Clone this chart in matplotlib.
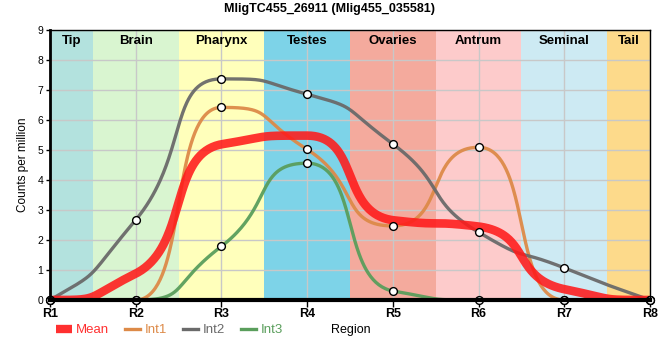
import numpy as np
import matplotlib.pyplot as plt
from matplotlib.lines import Line2D

plt.rcParams['font.family'] = ['Liberation Sans', 'DejaVu Sans']

title = "MligTC455_26911 (Mlig455_035581)"
regions = ["R1", "R2", "R3", "R4", "R5", "R6", "R7", "R8"]
tissues = ["Tip", "Brain", "Pharynx", "Testes", "Ovaries", "Antrum", "Seminal", "Tail"]
tissue_colors = ["#b3e2de", "#d9f5d0", "#ffffbb", "#7dd3e8",
                 "#f4aa9d", "#fdcbcb", "#cdeaf3", "#fdda8b"]

mean_vals = [0.0, 0.88, 5.19, 5.48, 2.66, 2.45, 0.36, 0.0]
int1 = [0.0, 0.0, 6.42, 5.02, 2.47, 5.09, 0.0, 0.0]
int2 = [0.0, 2.67, 7.37, 6.86, 5.2, 2.26, 1.07, 0.0]
int3 = [0.0, 0.0, 1.79, 4.56, 0.3, 0.0, 0.0, 0.0]


def slopes(y):
    # monotone (pchip-like) tangents, flat at local extremes
    y = np.asarray(y, float)
    d = np.diff(y)
    m = np.zeros_like(y)
    for i in range(1, len(y) - 1):
        if d[i - 1] * d[i] > 0:
            m[i] = 2.0 / (1.0 / d[i - 1] + 1.0 / d[i])
    for i, (a, b) in ((0, (d[0], d[1])), (len(y) - 1, (d[-1], d[-2]))):
        v = (3 * a - b) / 2.0
        if np.sign(v) != np.sign(a):
            v = 0.0
        m[i] = v
    return m


def smooth(y, k=0.62, n=80):
    y = np.asarray(y, float)
    m = slopes(y)
    t = np.linspace(0, 1, n)
    xs, ys = [], []
    for i in range(len(y) - 1):
        lo, hi = min(y[i], y[i + 1]), max(y[i], y[i + 1])
        c1 = np.clip(y[i] + k * m[i], lo, hi)
        c2 = np.clip(y[i + 1] - k * m[i + 1], lo, hi)
        bx = [i, i + k, i + 1 - k, i + 1]
        by = [y[i], c1, c2, y[i + 1]]
        b = [(1 - t) ** 3, 3 * t * (1 - t) ** 2, 3 * t ** 2 * (1 - t), t ** 3]
        xs.append(sum(w * v for w, v in zip(b, bx)))
        ys.append(sum(w * v for w, v in zip(b, by)))
    return np.concatenate(xs), np.concatenate(ys)


fig = plt.figure(figsize=(6.6, 3.6), dpi=100)
ax = fig.add_axes([50 / 660, 60 / 360, 600 / 660, 270 / 360])

x = np.arange(len(regions))
last = len(regions) - 1
for i, (name, col) in enumerate(zip(tissues, tissue_colors)):
    a, b = max(i - 0.5, 0), min(i + 0.5, last)
    ax.axvspan(a, b, color=col, zorder=0.2, lw=0)
    ax.text((a + b) / 2, 8.62, name, ha='center', va='center',
            fontsize=9.5, fontweight='bold', zorder=5)

ax.set_axisbelow('line')
ax.grid(True, color='#c8c8c8', lw=1)

series = [(int1, "#dd8a48", "Int1"), (int2, "#6a6a6a", "Int2"), (int3, "#5a9e5c", "Int3")]
for vals, col, lab in series:
    sx, sy = smooth(vals)
    ax.plot(sx, sy, color=col, lw=2.4, alpha=0.95, zorder=3, solid_capstyle='round')

mx, my = smooth(mean_vals)
ax.plot(mx, my, color="#ff1a1a", lw=6.2, alpha=0.88, zorder=4, solid_capstyle='butt')

for vals, col, lab in series:
    ax.plot(x, vals, 'o', ms=5.6, mfc='white', mec='black', mew=1.0,
            zorder=6, clip_on=False)

ax.set_xlim(0, last)
ax.set_ylim(0, 9)
ax.set_xticks(x)
ax.set_xticklabels(regions, fontsize=9, fontweight='bold')
ax.set_yticks(range(10))
ax.tick_params(axis='y', labelsize=7.5, length=3, width=1, pad=2)
ax.tick_params(axis='x', length=5, width=1, pad=1)
ax.set_ylabel("Counts per million", fontsize=8.5, labelpad=6)

ax.spines['left'].set_linewidth(2)
ax.spines['bottom'].set_linewidth(3)
ax.spines['top'].set_linewidth(1)
ax.spines['right'].set_linewidth(1)
for s in ax.spines.values():
    s.set_zorder(7)

fig.text(0.5, 0.975, title, ha='center', va='center', fontsize=9, fontweight='bold')

handles = [Line2D([], [], color="#ff3030", lw=6, solid_capstyle='butt')]
handles += [Line2D([], [], color=c, lw=2.4) for _, c, _ in series]
labels = ["Mean"] + [lab for _, _, lab in series]
leg = fig.legend(handles, labels, loc='center left', bbox_to_anchor=(44 / 660, 30 / 360),
                 ncol=4, frameon=False, fontsize=9.5, handlelength=1.2,
                 handletextpad=0.3, columnspacing=1.2,
                 labelcolor=["#ff3030", "#dd8a48", "#6a6a6a", "#5a9e5c"])
fig.text(351 / 660, 30 / 360, "Region", ha='center', va='center', fontsize=9)

fig.savefig("out.png", dpi=100)
